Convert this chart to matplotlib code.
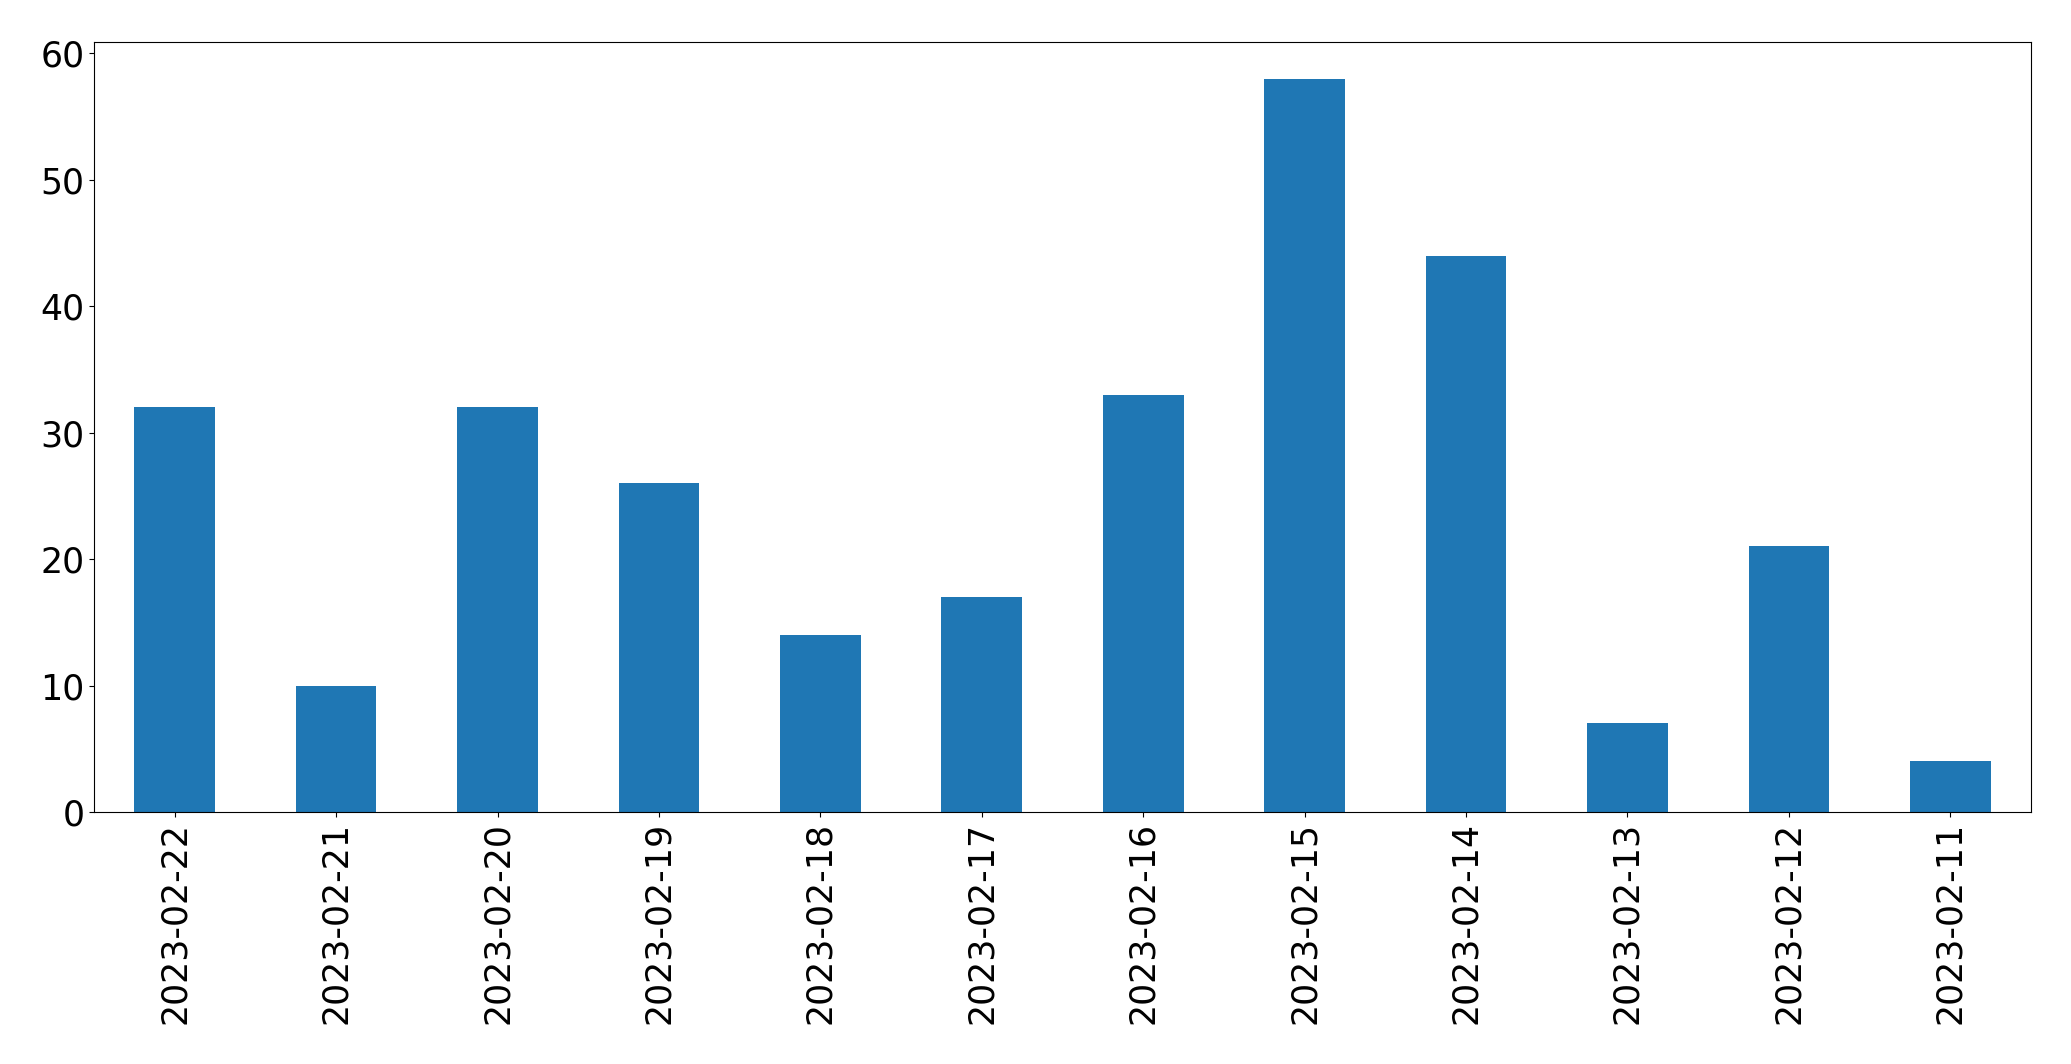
import matplotlib
matplotlib.use("Agg")
import matplotlib.pyplot as plt

dates = ["2023-02-22", "2023-02-21", "2023-02-20", "2023-02-19", "2023-02-18", "2023-02-17",
         "2023-02-16", "2023-02-15", "2023-02-14", "2023-02-13", "2023-02-12", "2023-02-11"]
counts = [32, 10, 32, 26, 14, 17, 33, 58, 44, 7, 21, 4]

fig = plt.figure(figsize=(20.71, 10.64), dpi=100)
ax = fig.add_axes([94 / 2071, 1 - 812 / 1064, (2031 - 94) / 2071, (812 - 42) / 1064])
x = range(len(dates))
ax.bar(x, counts, width=0.5, color="#1f77b4")
ax.set_xticks(list(x))
ax.set_xticklabels(dates, rotation=90)
ax.set_xlim(-0.5, len(dates) - 0.5)
ax.set_ylim(0, 60.9)
ax.tick_params(labelsize=25)

fig.savefig("out.png", dpi=100)
